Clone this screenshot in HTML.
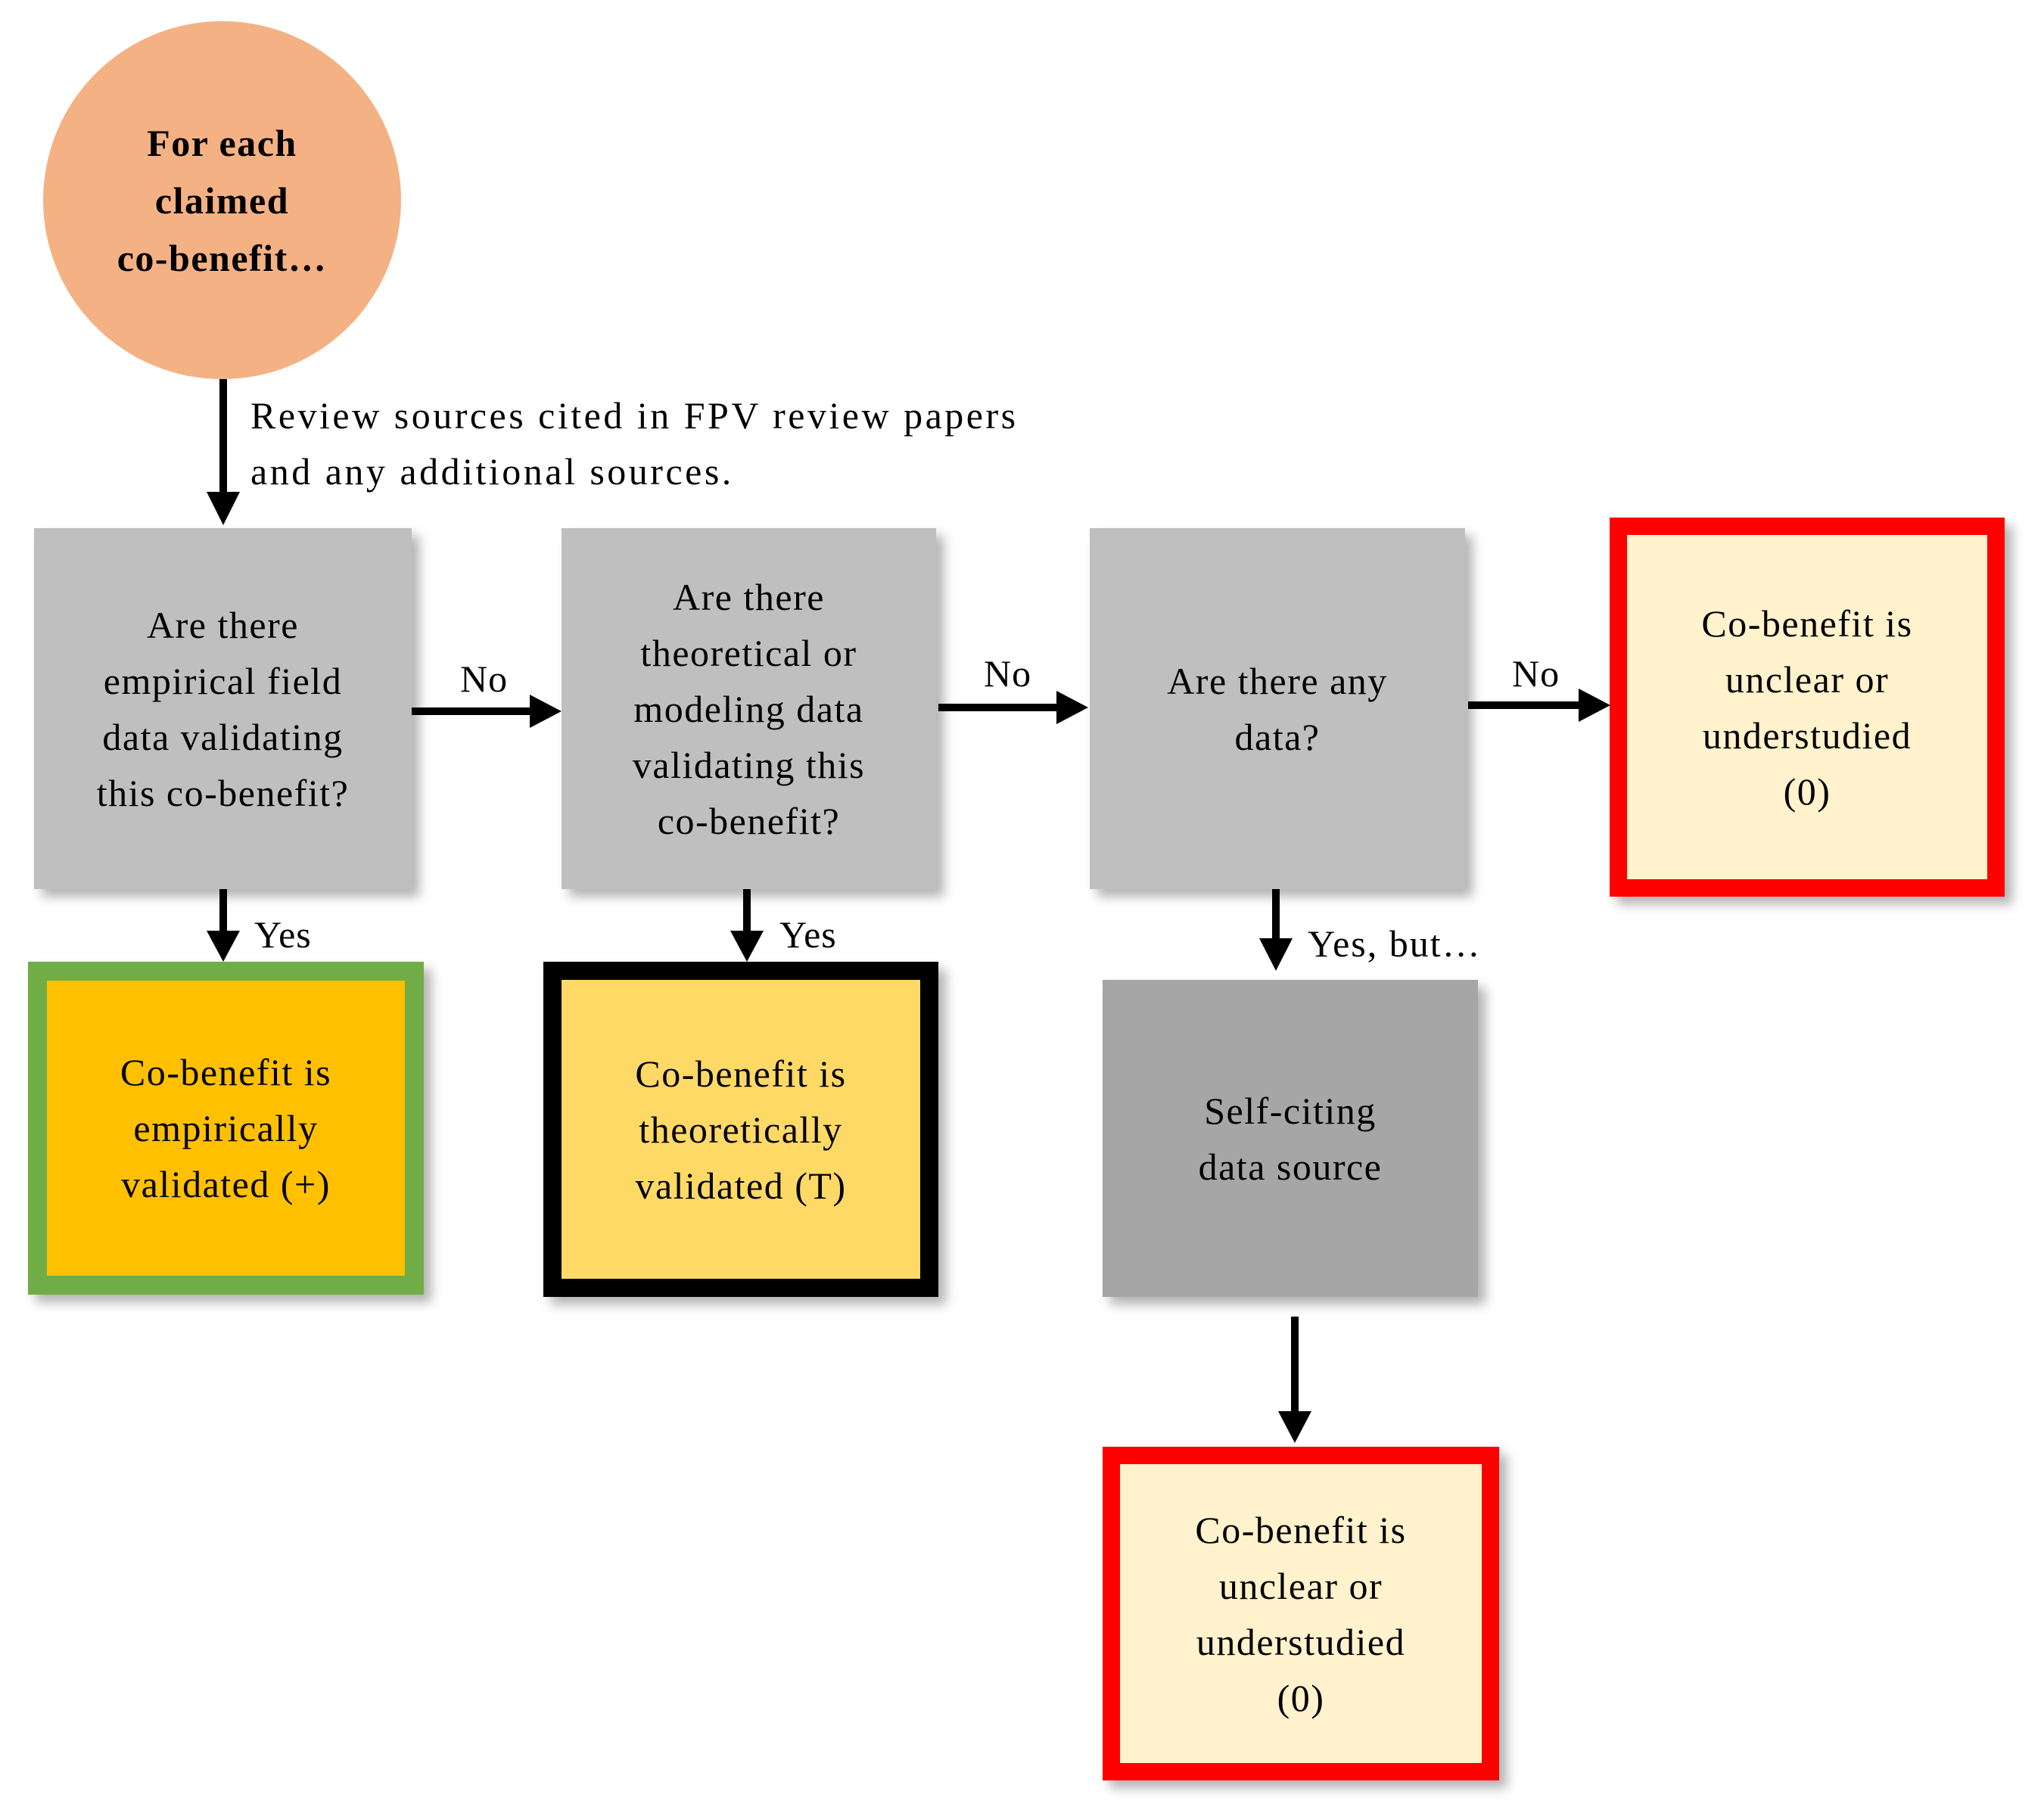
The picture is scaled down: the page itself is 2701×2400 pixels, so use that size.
<!DOCTYPE html>
<html><head><meta charset="utf-8"><style>
html,body{margin:0;padding:0;background:#fff;}
body{width:2701px;height:2400px;position:relative;overflow:hidden;font-family:"Liberation Serif",serif;color:#000;}
.b{position:absolute;box-sizing:border-box;display:flex;align-items:center;justify-content:center;text-align:center;font-size:50px;line-height:74px;letter-spacing:1.5px;box-shadow:10px 10px 14px rgba(0,0,0,0.3);}
.g{background:#bfbfbf;}
.t{position:absolute;font-size:50px;line-height:74px;white-space:nowrap;letter-spacing:1px;}
</style></head><body>
<div class="b" style="left:57px;top:28px;width:473px;height:473px;border-radius:50%;background:#f4b183;box-shadow:none;font-weight:bold;line-height:76px;">For each<br>claimed<br>co-benefit…</div>

<div class="t" style="left:331px;top:512px;letter-spacing:3.5px;">Review sources cited in FPV review papers</div>
<div class="t" style="left:331px;top:586px;letter-spacing:3.5px;">and any additional sources.</div>

<div class="b g" style="left:45px;top:698px;width:499px;height:477px;">Are there<br>empirical field<br>data validating<br>this co-benefit?</div>
<div class="b g" style="left:742px;top:698px;width:495px;height:477px;">Are there<br>theoretical or<br>modeling data<br>validating this<br>co-benefit?</div>
<div class="b g" style="left:1440px;top:698px;width:496px;height:477px;">Are there any<br>data?</div>
<div class="b" style="left:2127px;top:684px;width:522px;height:501px;border:23px solid #ff0000;background:#fff2cc;">Co-benefit is<br>unclear or<br>understudied<br>(0)</div>

<div class="b" style="left:37px;top:1271px;width:523px;height:440px;border:25px solid #70ad47;background:#ffc000;">Co-benefit is<br>empirically<br>validated (+)</div>
<div class="b" style="left:718px;top:1271px;width:522px;height:443px;border:24px solid #000;background:#ffd966;">Co-benefit is<br>theoretically<br>validated (T)</div>
<div class="b" style="left:1457px;top:1295px;width:496px;height:419px;background:#a6a6a6;">Self-citing<br>data source</div>
<div class="b" style="left:1457px;top:1912px;width:524px;height:441px;border:23px solid #ff0000;background:#fff2cc;">Co-benefit is<br>unclear or<br>understudied<br>(0)</div>

<div class="t" style="left:608px;top:860px;">No</div>
<div class="t" style="left:1300px;top:853px;">No</div>
<div class="t" style="left:1998px;top:853px;">No</div>
<div class="t" style="left:336px;top:1198px;">Yes</div>
<div class="t" style="left:1030px;top:1198px;">Yes</div>
<div class="t" style="left:1728px;top:1210px;letter-spacing:2px;">Yes, but…</div>

<svg width="2701" height="2400" style="position:absolute;left:0;top:0;" xmlns="http://www.w3.org/2000/svg">
<g fill="#000" stroke="none">
<rect x="290" y="501" width="10" height="155"/><polygon points="273,650 317,650 295,694"/>
<rect x="544" y="935" width="160" height="10"/><polygon points="700,918 700,962 742,940"/>
<rect x="1240" y="930" width="160" height="10"/><polygon points="1396,913 1396,957 1438,935"/>
<rect x="1940" y="927" width="150" height="10"/><polygon points="2086,910 2086,954 2128,932"/>
<rect x="290" y="1175" width="10" height="60"/><polygon points="273,1230 317,1230 295,1271"/>
<rect x="982" y="1175" width="10" height="60"/><polygon points="965,1230 1009,1230 987,1271"/>
<rect x="1681" y="1175" width="10" height="70"/><polygon points="1664,1240 1708,1240 1686,1283"/>
<rect x="1706" y="1740" width="10" height="130"/><polygon points="1689,1865 1733,1865 1711,1907"/>
</g></svg>
</body></html>
